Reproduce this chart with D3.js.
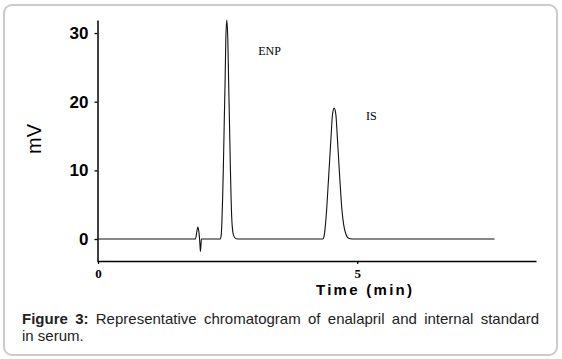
<!DOCTYPE html>
<html><head><meta charset="utf-8">
<script src="https://cdn.jsdelivr.net/npm/d3@7"></script>
<style>
html,body{margin:0;padding:0;background:#fff;}
svg{display:block;}
</style></head>
<body>
<svg id="chart" width="562" height="359"></svg>
<script>
// Chromatogram trace: time (min) and signal (mV)
const traceTime = [0, 1.88, 1.902, 1.927, 1.948, 1.959, 1.969, 1.975, 1.985, 1.994, 2.30,
  2.355, 2.375, 2.388, 2.403, 2.419, 2.436, 2.452, 2.465, 2.485, 2.504, 2.519, 2.535, 2.552, 2.568, 2.587, 2.616, 2.664, 2.741,
  4.334, 4.363, 4.388, 4.411, 4.440, 4.469, 4.498, 4.523, 4.556, 4.589, 4.614, 4.643, 4.672, 4.705, 4.739, 4.778, 4.826, 4.903,
  7.65];
const traceMV = [0, 0, 0.9, 1.75, 0.9, 0, -1.2, -1.8, -1.0, 0, 0,
  0, 0.5, 2.1, 5.7, 10.8, 17.4, 23.2, 29.0, 31.9, 29.0, 23.2, 17.4, 10.8, 5.7, 2.1, 0.5, 0.05, 0,
  0, 0.5, 2.1, 4.3, 7.9, 11.5, 15.2, 18.1, 19.07, 18.1, 15.2, 11.5, 7.9, 4.3, 2.1, 0.8, 0.15, 0,
  0];
const peakLabels = ["ENP", "IS"];
const peakLabelTime = [3.09, 5.17];
const peakLabelMV = [26.8, 17.4];
const xTicks = [0, 5];
const yTicks = [0, 10, 20, 30];
const xTitle = "Time (min)";
const yTitle = "mV";
const captionBold = "Figure 3:";
const captionLine1 = " Representative chromatogram of enalapril and internal standard";
const captionLine2 = "in serum.";

const svg = d3.select("#chart");

// outer frame
svg.append("rect").attr("x", 4).attr("y", 5).attr("width", 553).attr("height", 350)
  .attr("rx", 8).attr("fill", "#fff").attr("stroke", "#cbcbcb").attr("stroke-width", 2);

const x = d3.scaleLinear().domain([-0.02, 8.45]).range([97, 536]);
const y = d3.scaleLinear().domain([-3.2, 31.9]).range([261, 20]);

// y axis
const yAxis = svg.append("g").attr("transform", "translate(97.5,0)")
  .call(d3.axisLeft(y).tickValues(yTicks).tickSize(3).tickSizeOuter(0).tickPadding(6));
yAxis.select(".domain").attr("stroke", "#000").attr("stroke-width", 1.5);
yAxis.selectAll(".tick line").attr("stroke", "#000").attr("stroke-width", 1.3);
yAxis.selectAll(".tick text").attr("font-family", "Arial, 'Liberation Sans', sans-serif")
  .attr("font-weight", "bold").attr("font-size", 17).attr("fill", "#000");

// x axis
const xAxis = svg.append("g").attr("transform", "translate(0,261)")
  .call(d3.axisBottom(x).tickValues(xTicks).tickSize(3).tickSizeOuter(0).tickPadding(5));
xAxis.select(".domain").attr("stroke", "#000").attr("stroke-width", 1.5);
xAxis.selectAll(".tick line").attr("stroke", "#000").attr("stroke-width", 1.2);
xAxis.selectAll(".tick text").attr("font-family", "'Times New Roman', 'Liberation Serif', serif")
  .attr("font-weight", "bold").attr("font-size", 13).attr("fill", "#000");

// trace
const pts = traceTime.map((t, i) => [t, traceMV[i]]);
const line = d3.line().x(d => x(d[0])).y(d => y(d[1])).curve(d3.curveMonotoneX);
svg.append("path").datum(pts).attr("d", line).attr("fill", "none")
  .attr("stroke", "#111").attr("stroke-width", 1.1);

// peak labels
svg.selectAll("text.peak").data(peakLabels).enter().append("text").attr("class", "peak")
  .attr("x", (d, i) => x(peakLabelTime[i])).attr("y", (d, i) => y(peakLabelMV[i]))
  .attr("font-family", "'Times New Roman', 'Liberation Serif', serif").attr("font-size", 12)
  .attr("fill", "#000").text(d => d);

// axis titles
const xt = svg.append("text").attr("x", 364).attr("y", 295).attr("text-anchor", "middle")
  .attr("font-family", "Arial, 'Liberation Sans', sans-serif").attr("font-weight", "bold")
  .attr("font-size", 15).attr("fill", "#000").text(xTitle);
xt.attr("textLength", 96).attr("lengthAdjust", "spacing");

svg.append("text").attr("transform", "translate(41,139) rotate(-90)").attr("text-anchor", "middle")
  .attr("font-family", "Arial, 'Liberation Sans', sans-serif").attr("font-size", 20)
  .attr("fill", "#000").text(yTitle);

// caption
const cap = svg.append("text").attr("x", 22).attr("y", 324)
  .attr("font-family", "Arial, 'Liberation Sans', sans-serif").attr("font-size", 15).attr("fill", "#222");
cap.append("tspan").attr("font-weight", "bold").text(captionBold);
cap.append("tspan").text(captionLine1);
const target = 539 - 22;
const len = cap.node().getComputedTextLength();
const nSpaces = (captionBold + captionLine1).split(" ").length - 1;
if (len < target) cap.attr("word-spacing", (target - len) / nSpaces);
svg.append("text").attr("x", 22).attr("y", 341)
  .attr("font-family", "Arial, 'Liberation Sans', sans-serif").attr("font-size", 15).attr("fill", "#222")
  .text(captionLine2);
</script>
</body></html>
